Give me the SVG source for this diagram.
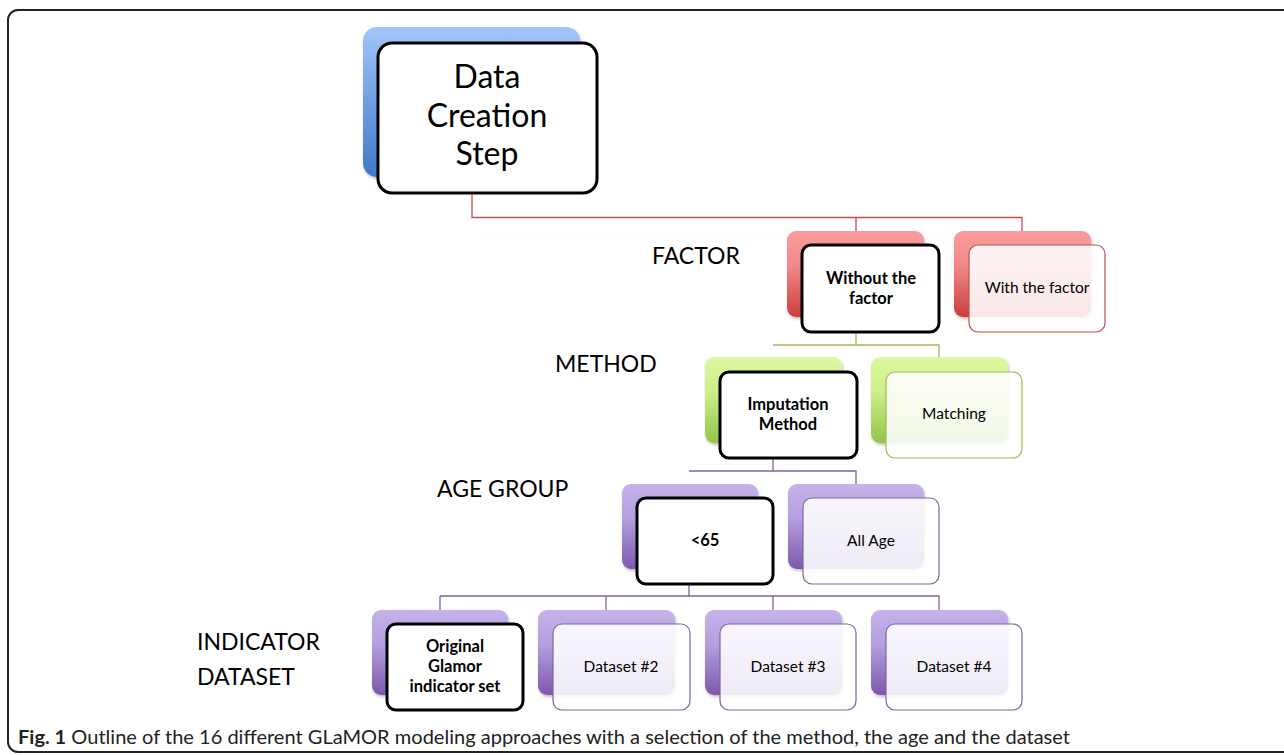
<svg xmlns="http://www.w3.org/2000/svg" width="1284" height="755" viewBox="0 0 1284 755">
<defs>
<linearGradient id="gBlue" x1="0" y1="0" x2="0" y2="1"><stop offset="0" stop-color="#a3c6fb"/><stop offset="1" stop-color="#3d79c9"/></linearGradient>
<linearGradient id="gRed" x1="0" y1="0" x2="0" y2="1"><stop offset="0" stop-color="#f99d9c"/><stop offset="0.4" stop-color="#f08a89"/><stop offset="1" stop-color="#cc3d3c"/></linearGradient>
<linearGradient id="gGreen" x1="0" y1="0" x2="0" y2="1"><stop offset="0" stop-color="#dcf9a0"/><stop offset="0.4" stop-color="#cdef8c"/><stop offset="1" stop-color="#93c447"/></linearGradient>
<linearGradient id="gPurple" x1="0" y1="0" x2="0" y2="1"><stop offset="0" stop-color="#c6b3e9"/><stop offset="0.4" stop-color="#b59fdf"/><stop offset="1" stop-color="#7d58ad"/></linearGradient>
<filter id="sh" x="-10%" y="-10%" width="125%" height="130%"><feDropShadow dx="1" dy="2" stdDeviation="1.5" flood-color="#000" flood-opacity="0.25"/></filter>
</defs>
<style>
.t{font-family:Lato,"Open Sans",sans-serif;fill:#000;text-anchor:middle}
.b{font-weight:bold;font-size:16.5px}
.n{font-size:15.5px}
.lab{font-family:Lato,"Open Sans",sans-serif;font-size:23px;fill:#000}
.sel{fill:#fff;stroke:#000;stroke-width:3}
.back{filter:url(#sh)}
.fr{fill:#fff;fill-opacity:0.88;stroke-width:1.2}
.cr{fill:none;stroke:#c0504d;stroke-width:1.3}
.cg{fill:none;stroke:#9bbb59;stroke-width:1.3}
.cp{fill:none;stroke:#8064a2;stroke-width:1.3}
</style>
<rect width="1284" height="755" fill="#fff"/>
<rect x="8" y="10" width="1300" height="742" rx="10" fill="none" stroke="#222" stroke-width="2"/>

<g id="connectors">
<path class="cr" d="M472 193V217.5H1022V232M856 217.5V232"/>
<path class="cg" d="M856 333V345H939V358M773 345H856"/>
<path class="cp" d="M773 458V471H856V484M689 471H773"/>
<path class="cp" d="M689 584V596H939V610M440 596H689M606 596V610M773 596V610M440 596V610"/>
</g>

<g id="node-data-creation">
<rect class="back" x="363" y="27" width="217" height="150" rx="14" fill="url(#gBlue)"/>
<rect class="sel" x="378" y="43" width="219" height="150" rx="14"/>
<text class="t" font-size="32" x="487" y="88">Data</text>
<text class="t" font-size="32" x="487" y="127">Creation</text>
<text class="t" font-size="32" x="487" y="165">Step</text>
</g>

<text class="lab" x="652" y="264">FACTOR</text>
<text class="lab" x="555" y="372">METHOD</text>
<text class="lab" x="437" y="497">AGE GROUP</text>
<text class="lab" x="197" y="650">INDICATOR</text>
<text class="lab" x="197" y="685">DATASET</text>

<g id="node-without-factor">
<rect class="back" x="787" y="231" width="137" height="86" rx="9" fill="url(#gRed)"/>
<rect class="sel" x="802" y="245" width="137" height="87" rx="9"/>
<text class="t b" x="871" y="284">Without the</text>
<text class="t b" x="871" y="304">factor</text>
</g>
<g id="node-with-factor">
<rect class="back" x="954" y="231" width="137" height="86" rx="9" fill="url(#gRed)"/>
<rect class="fr" x="969" y="245" width="136" height="87" rx="9" stroke="#c0504d"/>
<text class="t n" x="1037" y="293">With the factor</text>
</g>

<g id="node-imputation">
<rect class="back" x="705" y="357" width="137" height="86" rx="9" fill="url(#gGreen)"/>
<rect class="sel" x="720" y="372" width="137" height="86" rx="9"/>
<text class="t b" x="788" y="410">Imputation</text>
<text class="t b" x="788" y="430">Method</text>
</g>
<g id="node-matching">
<rect class="back" x="871" y="357" width="137" height="86" rx="9" fill="url(#gGreen)"/>
<rect class="fr" x="886" y="372" width="136" height="86" rx="9" stroke="#9bbb59"/>
<text class="t n" x="954" y="419">Matching</text>
</g>

<g id="node-under65">
<rect class="back" x="622" y="484" width="136" height="85" rx="9" fill="url(#gPurple)"/>
<rect class="sel" x="637" y="498" width="136" height="86" rx="9"/>
<text class="t b" x="705" y="546">&lt;65</text>
</g>
<g id="node-all-age">
<rect class="back" x="788" y="484" width="136" height="85" rx="9" fill="url(#gPurple)"/>
<rect class="fr" x="803" y="498" width="136" height="86" rx="9" stroke="#8064a2"/>
<text class="t n" x="871" y="546">All Age</text>
</g>

<g id="node-original">
<rect class="back" x="372" y="610" width="136" height="85" rx="9" fill="url(#gPurple)"/>
<rect class="sel" x="387" y="624" width="136" height="86" rx="9"/>
<text class="t b" x="455" y="652">Original</text>
<text class="t b" x="455" y="672">Glamor</text>
<text class="t b" x="455" y="692">indicator set</text>
</g>
<g id="node-dataset2">
<rect class="back" x="538" y="610" width="137" height="85" rx="9" fill="url(#gPurple)"/>
<rect class="fr" x="553" y="624" width="137" height="86" rx="9" stroke="#8064a2"/>
<text class="t n" x="621" y="672">Dataset #2</text>
</g>
<g id="node-dataset3">
<rect class="back" x="705" y="610" width="137" height="85" rx="9" fill="url(#gPurple)"/>
<rect class="fr" x="720" y="624" width="136" height="86" rx="9" stroke="#8064a2"/>
<text class="t n" x="788" y="672">Dataset #3</text>
</g>
<g id="node-dataset4">
<rect class="back" x="871" y="610" width="137" height="85" rx="9" fill="url(#gPurple)"/>
<rect class="fr" x="886" y="624" width="136" height="86" rx="9" stroke="#8064a2"/>
<text class="t n" x="954" y="672">Dataset #4</text>
</g>

<text x="18" y="744" font-family="Lato,'Open Sans',sans-serif" font-size="19" fill="#222" textLength="1052" lengthAdjust="spacingAndGlyphs"><tspan font-weight="bold">Fig. 1</tspan> Outline of the 16 different GLaMOR modeling approaches with a selection of the method, the age and the dataset</text>
</svg>
